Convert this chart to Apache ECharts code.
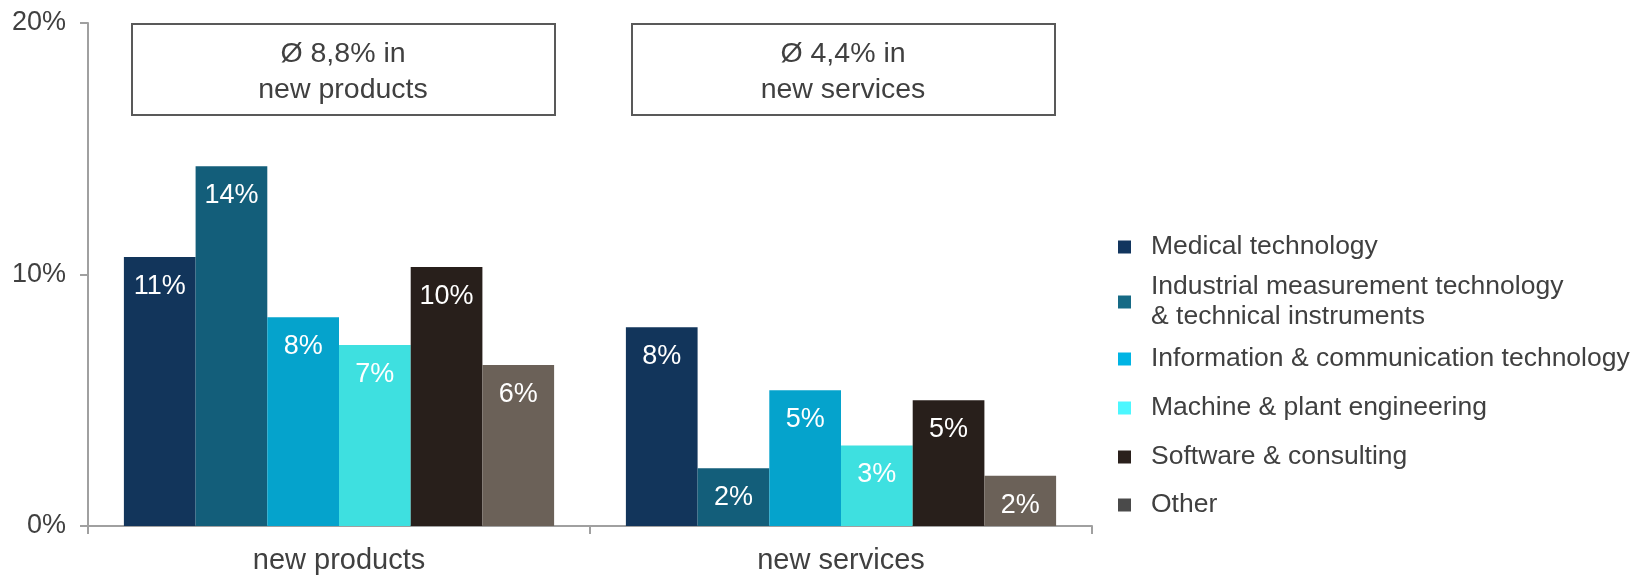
<!DOCTYPE html>
<html>
<head>
<meta charset="utf-8">
<style>
  html, body { margin: 0; padding: 0; background: #fff; }
  #chart { width: 1639px; height: 575px; }
</style>
<script src="https://cdn.jsdelivr.net/npm/echarts@6/dist/echarts.min.js"></script>
</head>
<body>
<div id="chart"></div>
<script>
// 数据
const categories = ['new products', 'new services']
const medical = [10.7, 7.9]
const industrial = [14.3, 2.3]
const ict = [8.3, 5.4]
const machine = [7.2, 3.2]
const software = [10.3, 5.0]
const other = [6.4, 2.0]
const averages = [8.8, 4.4]

const seriesNames = [
  'Medical technology',
  'Industrial measurement technology\n& technical instruments',
  'Information & communication technology',
  'Machine & plant engineering',
  'Software & consulting',
  'Other',
]
const seriesData = [medical, industrial, ict, machine, software, other]
const barColors = ['#12355b', '#135e7a', '#05a3cc', '#3ee0e0', '#281f1b', '#6b6158']
const legendColors = ['#12355e', '#166a85', '#00b4e4', '#4cf7ff', '#2a201c', '#4a4a4a']
const legendCenters = [247, 302, 359, 408, 457, 505]

const FONT = "'Liberation Sans', Arial, sans-serif"
const TEXT = '#404040'
const AXIS = '#a0a0a0'

const buildSeries = () =>
  seriesNames.map((name, i) => ({
    name,
    type: 'bar',
    data: seriesData[i],
    barGap: 0,
    barCategoryGap: '14.3%',
    itemStyle: { color: barColors[i] },
    label: {
      show: true,
      position: 'insideTop',
      distance: 16,
      color: '#fff',
      fontFamily: FONT,
      fontSize: 27,
      formatter: p => Math.round(p.value) + '%',
    },
  }))

// 每个图例单独定位
const buildLegends = () =>
  seriesNames.map((name, i) => {
    const lines = name.split('\n').length
    return {
      data: [{ name, itemStyle: { color: legendColors[i] } }],
      orient: 'vertical',
      left: 1118,
      top: legendCenters[i] - lines * 15,
      padding: 0,
      icon: 'rect',
      itemWidth: 13,
      itemHeight: 13,
      selectedMode: false,
      textStyle: {
        color: TEXT,
        fontFamily: FONT,
        fontSize: 26.5,
        lineHeight: 30,
        padding: [0, 0, 0, 15],
      },
    }
  })

// 平均值方框
const boxLefts = [131, 631]
const buildBoxes = () =>
  averages.map((avg, i) => ({
    type: 'group',
    left: boxLefts[i],
    top: 23,
    children: [
      {
        type: 'rect',
        shape: { x: 0, y: 0, width: 423, height: 91 },
        style: { fill: '#fff', stroke: '#595959', lineWidth: 2 },
      },
      {
        type: 'text',
        x: 211,
        y: 48,
        style: {
          text: 'Ø ' + avg.toFixed(1).replace('.', ',') + '% in\n' + categories[i],
          align: 'center',
          verticalAlign: 'middle',
          fill: TEXT,
          fontFamily: FONT,
          fontSize: 28.5,
          lineHeight: 36,
        },
      },
    ],
  }))

const chart = echarts.init(document.getElementById('chart'))
chart.setOption({
  animation: false,
  backgroundColor: '#fff',
  grid: { left: 88, right: 547, top: 23, bottom: 49, containLabel: false },
  xAxis: {
    type: 'category',
    data: categories,
    axisLine: { lineStyle: { color: AXIS, width: 2 } },
    axisTick: { show: true, length: 8, interval: 0, lineStyle: { color: AXIS, width: 2 } },
    axisLabel: { color: TEXT, fontFamily: FONT, fontSize: 29, margin: 20 },
  },
  yAxis: {
    type: 'value',
    min: 0,
    max: 20,
    interval: 10,
    axisLine: { show: true, lineStyle: { color: AXIS, width: 2 } },
    axisTick: { show: true, length: 8, lineStyle: { color: AXIS, width: 2 } },
    axisLabel: { color: TEXT, fontFamily: FONT, fontSize: 27, margin: 22, formatter: '{value}%' },
    splitLine: { show: false },
  },
  legend: buildLegends(),
  graphic: buildBoxes(),
  series: buildSeries(),
})
</script>
</body>
</html>
